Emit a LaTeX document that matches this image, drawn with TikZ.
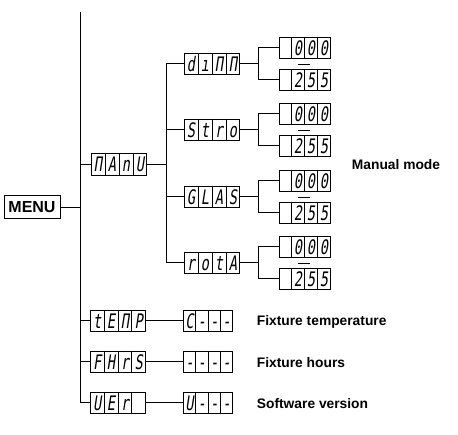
\documentclass[tikz,border=0pt]{standalone}
\usepackage{fontspec}
\setmainfont{Liberation Sans}
\newfontfamily\segfont[FakeSlant=0.15,FakeStretch=0.68]{DejaVu Sans Mono}
\usetikzlibrary{calc}
\tikzset{
  dbox/.style={draw, line width=0.9pt, minimum height=21.5pt, inner sep=0pt, anchor=center},
  segch/.style={font=\segfont\fontsize{20}{20}\selectfont, inner sep=0pt, anchor=base},
  conn/.style={line width=1pt},
  lbl/.style={font=\bfseries\fontsize{13.8}{14}\selectfont, anchor=west, inner sep=0pt},
}
\newcommand{\dispbox}[4]{%
  \node[dbox, minimum width=#3] (#1) at (#2) {};
  \foreach \k in {1,2,3}{\draw[line width=0.9pt] ($(#1.north west)!{\k/4}!(#1.north east)$) -- ($(#1.south west)!{\k/4}!(#1.south east)$);}
  \foreach \ch [count=\i] in {#4}{\node[segch] at ($($(#1.west)!{(\i-0.5)/4}!(#1.east)$)+(0,7.2)$) {\ch};}
}
\newcommand{\valpair}[2]{% name, row y
  \dispbox{#1A}{304.5,#2-16}{51pt}{{},0,0,0}
  \dispbox{#1B}{304.5,#2+16}{51pt}{{},2,5,5}
  \coordinate (#1J) at (258.5,#2);
  \draw[conn] (#1.east) -- (#1J);
  \draw[conn] (#1A.west) -| (#1J) |- (#1B.west);
  \draw[line width=0.9pt] ($(#1J)+(39.5,0)$) -- ++(12,0);
}
\begin{document}
\begin{tikzpicture}[x=1pt,y=-1pt]
\useasboundingbox (0,0) rectangle (458,435);
% MENU
\node[draw, line width=1pt, minimum width=56pt, minimum height=23pt, inner sep=0pt,
      font=\bfseries\fontsize{16}{16}\selectfont] (menu) at (32,207.5) {MENU};
\coordinate (top) at (80.5,12);
% first level
\dispbox{manu}{119,164.5}{55pt}{Π,A,n,U}
\dispbox{tenp}{118,321}{54.5pt}{t,E,Π,P}
\dispbox{fhrs}{118,362}{54.5pt}{F,H,r,S}
\dispbox{uer}{118,403}{54.5pt}{U,E,r,{}}
\draw[conn] (top) |- (uer.west);
\draw[conn] (menu.east) -- (menu.east -| top);
\draw[conn] (manu.west) -- (manu.west -| top);
\draw[conn] (tenp.west) -- (tenp.west -| top);
\draw[conn] (fhrs.west) -- (fhrs.west -| top);
% manual submenu
\coordinate (t2) at (166,164.5);
\dispbox{dinn}{212,64}{55pt}{d,ı,Π,Π}
\dispbox{stro}{212,130}{55pt}{S,t,r,o}
\dispbox{glas}{212,197}{55pt}{G,L,A,S}
\dispbox{rota}{212,263}{55pt}{r,o,t,A}
\draw[conn] (manu.east) -- (t2);
\draw[conn] (dinn.west) -| (t2);
\draw[conn] (rota.west) -| (t2);
\draw[conn] (stro.west) -- (stro.west -| t2);
\draw[conn] (glas.west) -- (glas.west -| t2);
\valpair{dinn}{64}
\valpair{stro}{130}
\valpair{glas}{197}
\valpair{rota}{263}
\node[lbl] (lman) at (351.7,165) {Manual mode};
% info values
\dispbox{tenpV}{208,321}{48.5pt}{C,-,-,-}
\dispbox{fhrsV}{208,362}{48.5pt}{-,-,-,-}
\dispbox{uerV}{208,403}{48.5pt}{U,-,-,-}
\draw[conn] (tenp.east) -- (tenpV.west);
\draw[conn] (fhrs.east) -- (fhrsV.west);
\draw[conn] (uer.east) -- (uerV.west);
\node[lbl] (ltemp) at (256.7,322) {Fixture temperature};
\node[lbl] (lhours) at (256.7,362.7) {Fixture hours};
\node[lbl] (lsoft) at (256.7,404) {Software version};
\end{tikzpicture}
\end{document}
